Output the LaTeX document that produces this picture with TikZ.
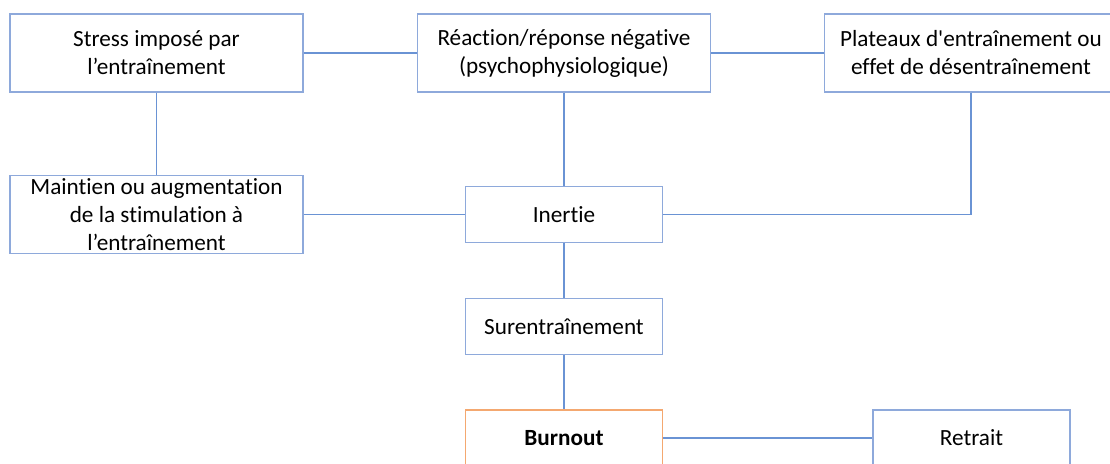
\documentclass[tikz,border=0pt]{standalone}
\usepackage{fontspec}
\setmainfont{Carlito}[Ligatures={NoCommon}]
\usepackage{xcolor}
\definecolor{boxblue}{HTML}{8EA9DB}
\definecolor{lineblue}{HTML}{6A93D4}
\definecolor{burnorange}{HTML}{F4A870}

\begin{document}
\begin{tikzpicture}[
  x=0.5pt,y=-0.5pt,
  wide/.style={rectangle,draw=boxblue,line width=0.6pt,minimum width=146.5pt,
    minimum height=39pt,inner sep=0pt,align=center,
    font=\fontsize{11.6}{14}\selectfont},
  stage/.style={wide,minimum width=98.5pt,minimum height=28pt},
  alarm/.style={stage,draw=burnorange,font=\fontsize{11.6}{14}\selectfont\bfseries},
  link/.style={draw=lineblue,line width=0.6pt}
]
\useasboundingbox (0,0) rectangle (1110,464);
\clip (0,0) rectangle (1110,464);
\node[wide] (stress) at (156.5,53) {Stress imposé par\\l’entraînement};
\node[wide] (react) at (564,53) {Réaction/réponse négative\\(psychophysiologique)};
\node[wide] (plat) at (971,53) {Plateaux d\textquotesingle entraînement ou\\effet de désentraînement};
\node[wide] (maint) at (156.5,214.5) {Maintien ou augmentation\\de la stimulation à\\l’entraînement};
\node[stage] (inert) at (564,214.5) {Inertie};
\node[stage] (surent) at (564,326.5) {Surentraînement};
\node[alarm] (burn) at (564,438) {Burnout};
\node[stage] (retr) at (971.5,438) {Retrait};
\draw[link] (stress) -- (react);
\draw[link] (react) -- (plat);
\draw[link] (stress) -- (maint);
\draw[link] (react) -- (inert);
\draw[link] (maint) -- (inert);
\draw[link] (plat.south) |- (inert.east);
\draw[link] (inert) -- (surent);
\draw[link] (surent) -- (burn);
\draw[link] (burn) -- (retr);
\end{tikzpicture}
\end{document}
